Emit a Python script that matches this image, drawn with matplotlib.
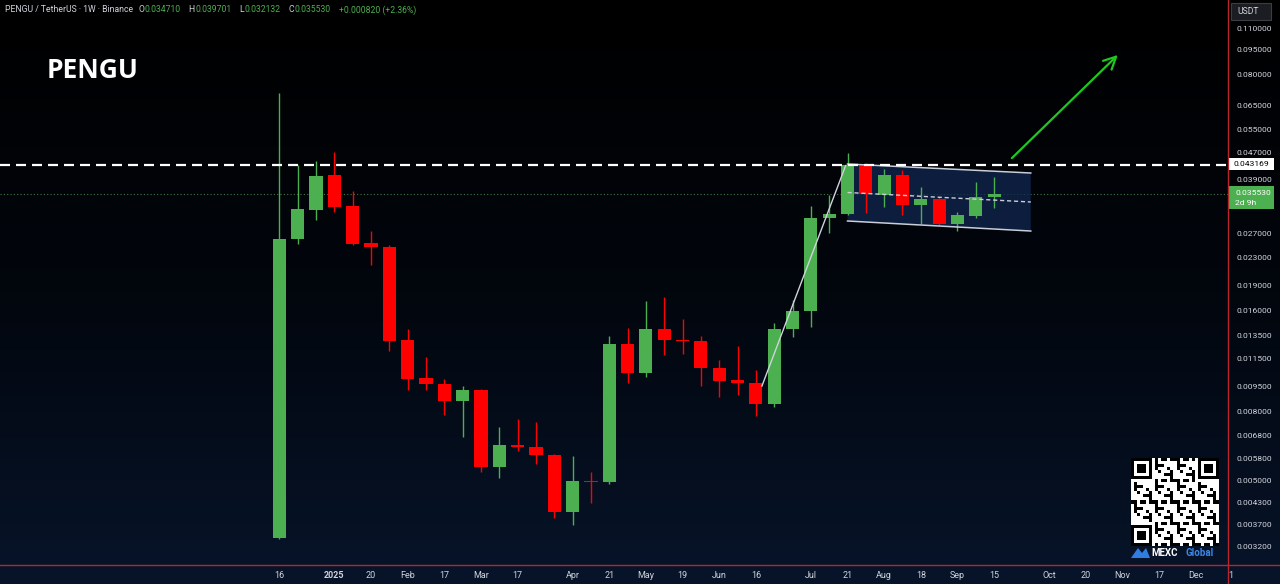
import numpy as np
import matplotlib
matplotlib.use('Agg')
import matplotlib.pyplot as plt
from matplotlib.colors import LinearSegmentedColormap
from matplotlib.ticker import NullLocator
from matplotlib.lines import Line2D
from matplotlib.patches import Rectangle, Polygon

# ─── Weekly OHLC (PENGU/USDT, weeks from 16 Dec 2024) ───
opens = [0.00338, 0.02604, 0.03174, 0.04032, 0.03262, 0.02534, 0.02465, 0.01306,
         0.01008, 0.00967, 0.00862, 0.00929, 0.00549, 0.00638, 0.00629, 0.00596,
         0.00404, 0.00499, 0.00496, 0.01272, 0.01043, 0.01408, 0.01306, 0.01298,
         0.01079, 0.00994, 0.00974, 0.00844, 0.01408, 0.01593, 0.03006, 0.03089,
         0.04346, 0.03517, 0.04032, 0.03285, 0.03422, 0.02885, 0.03047, 0.034710]
highs = [0.0706, 0.04316, 0.04436, 0.04717, 0.03615, 0.02750, 0.02500, 0.01408,
         0.01163, 0.01001, 0.00954, 0.00935, 0.00721, 0.00762, 0.00746, 0.00600,
         0.00592, 0.00531, 0.01343, 0.01418, 0.01705, 0.01752, 0.01508, 0.01343,
         0.01140, 0.01254, 0.01065, 0.01467, 0.01717, 0.03262, 0.03517, 0.04685,
         0.04370, 0.04201, 0.04172, 0.03715, 0.03469, 0.03131, 0.03843, 0.039701]
lows = [0.00335, 0.02517, 0.02965, 0.03131, 0.02500, 0.02181, 0.01212, 0.00929,
        0.00929, 0.00783, 0.00674, 0.00531, 0.00509, 0.00612, 0.00560, 0.00388,
        0.00369, 0.00429, 0.00489, 0.00974, 0.01015, 0.01179, 0.01188, 0.00954,
        0.00885, 0.00897, 0.00778, 0.00827, 0.01334, 0.01428, 0.02713, 0.03060,
        0.03110, 0.03240, 0.03068, 0.02885, 0.02870, 0.02750, 0.03006, 0.032132]
closes = [0.02604, 0.03196, 0.04004, 0.03240, 0.02517, 0.02465, 0.01298, 0.01001,
          0.00967, 0.00862, 0.00929, 0.00549, 0.00638, 0.00629, 0.00596, 0.00404,
          0.00499, 0.00496, 0.01272, 0.01043, 0.01408, 0.01306, 0.01298, 0.01079,
          0.00987, 0.00974, 0.00844, 0.01408, 0.01593, 0.03006, 0.03089, 0.04316,
          0.03541, 0.04032, 0.03285, 0.03422, 0.02885, 0.03068, 0.03469, 0.035530]

# x tick labels (week index -> label)
xtick_pos = [0, 3, 5, 7, 9, 11, 13, 16, 18, 20, 22, 24, 26, 29, 31, 33, 35, 37, 39,
             42, 44, 46, 48, 50]
xtick_labels = ['16', '2025', '20', 'Feb', '17', 'Mar', '17', 'Apr', '21', 'May', '19',
                'Jun', '16', 'Jul', '21', 'Aug', '18', 'Sep', '15', 'Oct', '20', 'Nov',
                '17', 'Dec']
ytick_vals = [0.110, 0.095, 0.080, 0.065, 0.055, 0.047, 0.039, 0.027, 0.023, 0.019,
              0.016, 0.0135, 0.0115, 0.0095, 0.008, 0.0068, 0.0058, 0.005, 0.0043,
              0.0037, 0.0032]

resistance = 0.043169
last_price = 0.035530

# drawings: descending channel, trendline, target arrow
chan_x = [31, 41]
chan_top = [0.04346, 0.04087]
chan_bot = [0.02945, 0.02750]
chan_mid = [0.03578, 0.03353]
trend_x = [26.33, 30.9]
trend_y = [0.00954, 0.04300]
arrow_x = [39.86, 45.86]
arrow_y = [0.04465, 0.09274]

header = [('PENGU / TetherUS \u00b7 1W \u00b7 Binance', 'txt', 5),
          ('O', 'txt', 0.5), ('0.034710', 'grn', 8), ('H', 'txt', 0.5), ('0.039701', 'grn', 8),
          ('L', 'txt', 0.5), ('0.032132', 'grn', 8), ('C', 'txt', 0.5), ('0.035530', 'grn', 8),
          ('+0.000820 (+2.36%)', 'grn', 0)]

GREEN = '#4caf50'
RED = '#ff0000'
TXT = '#d1d4dc'
W, H = 1280, 584
plt.rcParams['font.family'] = ['Roboto', 'DejaVu Sans']

fig = plt.figure(figsize=(W / 100, H / 100), dpi=100)
fig.patch.set_facecolor('#000000')

# background gradient
bg = fig.add_axes([0, 0, 1, 1], zorder=-5)
cmap = LinearSegmentedColormap.from_list('bg', ['#000000', '#02060d', '#07142a'])
grad = np.linspace(0, 1, 256).reshape(-1, 1)
bg.imshow(grad, aspect='auto', cmap=cmap, extent=[0, 1, 0, 1], origin='upper')
bg.axis('off')

ax = fig.add_axes([0, 19 / H, 1228 / W, 565 / H])
ax.set_facecolor('none')
ax.set_yscale('log')
ax.set_ylim(0.002811, 0.1332)
ax.set_xlim(-15.24, 51.76)

# candles
for i in range(len(opens)):
    o, h, l, c = opens[i], highs[i], lows[i], closes[i]
    col = GREEN if c >= o else RED
    ax.vlines(i, l, h, color=col, lw=1, zorder=3)
    lo, hi = min(o, c), max(o, c)
    if hi / lo < 1.006:
        hi = lo * 1.006
    ax.bar(i, hi - lo, bottom=lo, width=0.72, color=col, zorder=4, linewidth=0)

# channel
poly = Polygon([(chan_x[0], chan_top[0]), (chan_x[1], chan_top[1]),
                (chan_x[1], chan_bot[1]), (chan_x[0], chan_bot[0])],
               closed=True, facecolor='#102650', alpha=0.75, edgecolor='none', zorder=2)
ax.add_patch(poly)
ax.plot(chan_x, chan_top, color='#c9ced8', lw=1.1, zorder=5)
ax.plot(chan_x, chan_bot, color='#c9ced8', lw=1.1, zorder=5)
ax.plot(chan_x, chan_mid, color='#c9ced8', lw=1.0, dashes=(3, 2), zorder=5)

# trendline
ax.plot(trend_x, trend_y, color='#cfd3dc', lw=1.0, zorder=5)

# horizontal levels
ax.axhline(resistance, color='white', lw=1.6, dashes=(4.5, 2.7), zorder=6)
ax.axhline(last_price, color='#3f7a45', lw=0.8, ls=(0, (1, 2)), zorder=1)

# target arrow
ax.annotate('', xy=(arrow_x[1], arrow_y[1]), xytext=(arrow_x[0], arrow_y[0]),
            arrowprops=dict(arrowstyle='->', color='#1ec81e', lw=1.6,
                            mutation_scale=22), zorder=7)

# axes styling
for s in ax.spines.values():
    s.set_visible(False)
ax.yaxis.tick_right()
ax.set_yticks(ytick_vals)
ax.set_yticklabels(['%.6f' % v for v in ytick_vals])
ax.yaxis.set_minor_locator(NullLocator())
ax.set_xticks(xtick_pos)
ax.set_xticklabels(xtick_labels)
ax.tick_params(axis='y', length=0, pad=6, labelsize=6.1, labelcolor=TXT)
ax.tick_params(axis='x', length=0, pad=4.5, labelsize=6.5, labelcolor=TXT)
for lab in ax.get_xticklabels():
    if lab.get_text() == '2025':
        lab.set_fontweight('bold')
fig.text(1231 / W, 1 - 575 / H, '1', color=TXT, fontsize=6.5, va='center', ha='center')

# red borders
fig.add_artist(Line2D([1228 / W, 1228 / W], [0, 1], color='#b8262c', lw=1))
fig.add_artist(Line2D([0, 1], [19 / H, 19 / H], color='#b8262c', lw=1))


def px(x, y):
    return x / W, 1 - y / H


# right-axis price labels
fig.add_artist(Rectangle(px(1229, 170), 45 / W, 12 / H, facecolor='white',
                         edgecolor='none', transform=fig.transFigure))
fig.text(*px(1251.5, 164), '0.043169', color='black', fontsize=6.1, ha='center', va='center')
fig.add_artist(Rectangle(px(1229, 209), 45 / W, 23 / H, facecolor=GREEN,
                         edgecolor='none', transform=fig.transFigure))
fig.text(*px(1235, 193), '0.035530', color='white', fontsize=6.1, ha='left', va='center')
fig.text(*px(1235, 203), '2d 9h', color='white', fontsize=6.1, ha='left', va='center')

# USDT box
fig.add_artist(Rectangle(px(1231, 20), 40 / W, 17 / H, facecolor='#1b1d22',
                         edgecolor='#3a3d44', lw=0.8, transform=fig.transFigure))
fig.text(*px(1248, 11.5), 'USDT', color=TXT, fontsize=6.2, ha='center', va='center')

# header, chained left to right
renderer = fig.canvas.get_renderer()
x = 5
for t, kind, gap in header:
    txt = fig.text(x / W, 1 - 10 / H, t, color=GREEN if kind == 'grn' else TXT,
                   fontsize=6.2, va='center')
    x = txt.get_window_extent(renderer).x1 + gap

fig.text(47 / W, 1 - 71 / H, 'PENGU', color='white', fontsize=19, fontweight='bold',
         family='Open Sans', va='center')

# QR code badge (decorative)
qa = fig.add_axes([1131 / W, 1 - 546 / H, 88 / W, 88 / H])
n = 29
ii, jj = np.mgrid[0:n, 0:n]
mods = (((ii * ii * 3 + jj * 7 + ii * jj * 5 + jj * jj) % 7) < 3).astype(float)
for (r0, c0) in [(0, 0), (0, n - 8), (n - 8, 0)]:
    mods[r0:r0 + 8, c0:c0 + 8] = 0
for (r0, c0) in [(0, 0), (0, n - 7), (n - 7, 0)]:
    mods[r0:r0 + 7, c0:c0 + 7] = 1
    mods[r0 + 1:r0 + 6, c0 + 1:c0 + 6] = 0
    mods[r0 + 2:r0 + 5, c0 + 2:c0 + 5] = 1
qa.imshow(1 - mods, cmap='gray', interpolation='nearest', vmin=0, vmax=1)
qa.axis('off')
fig.add_artist(Polygon([px(1131, 558), px(1138, 548), px(1142, 553), px(1146, 548),
                        px(1150, 558)], closed=True, facecolor='#2f7de1',
                       transform=fig.transFigure))
fig.text(*px(1151, 553), 'MEXC', color='white', fontsize=7, fontweight='bold', va='center')
fig.text(*px(1186, 553), 'Global', color='#3b86e8', fontsize=7, fontweight='bold', va='center')

fig.savefig('out.png', dpi=100, facecolor=fig.get_facecolor())
